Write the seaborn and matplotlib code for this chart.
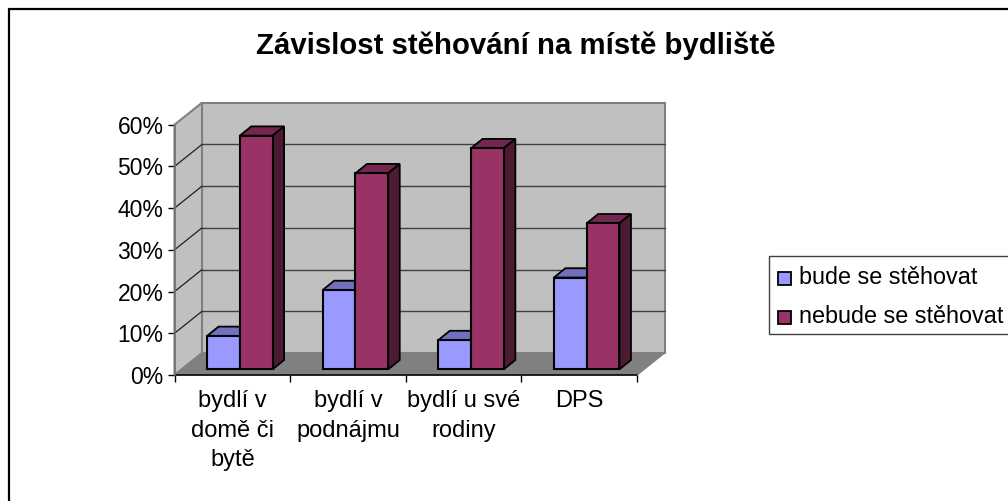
import pandas as pd
import matplotlib
matplotlib.use("Agg")
import matplotlib.pyplot as plt
import seaborn as sns
from matplotlib.lines import Line2D
from matplotlib.patches import Polygon
from matplotlib.transforms import Affine2D

# --- data ---
kategorie = ["bydlí v\ndomě či\nbytě", "bydlí v\npodnájmu", "bydlí u své\nrodiny", "DPS"]
bude = [0.08, 0.19, 0.07, 0.22]
nebude = [0.56, 0.47, 0.53, 0.35]
serie = ["bude se stěhovat", "nebude se stěhovat"]
y_ticks = [0, 0.1, 0.2, 0.3, 0.4, 0.5, 0.6]
y_labels = ["0%", "10%", "20%", "30%", "40%", "50%", "60%"]

W, H = 1008, 501
barvy = {serie[0]: "#9999FF", serie[1]: "#993366"}
vrch = {serie[0]: "#7070BC", serie[1]: "#732650"}
bok = {serie[0]: "#4D4D80", serie[1]: "#4D1A33"}

df = pd.DataFrame({
    "kategorie": kategorie * 2,
    "serie": [serie[0]] * 4 + [serie[1]] * 4,
    "hodnota": bude + nebude,
})

sns.set_style("white")
plt.rcParams["font.family"] = ["Liberation Sans", "DejaVu Sans"]

fig = plt.figure(figsize=(W / 100, H / 100), dpi=100)
# front plane of the fake 3D box, in pixels
left, right, top, bottom = 174.5, 637, 124.7, 375
ax = fig.add_axes([left / W, 1 - bottom / H, (right - left) / W, (bottom - top) / H])

sns.barplot(data=df, x="kategorie", y="hodnota", hue="serie", palette=barvy,
            width=0.567, gap=0, saturation=1, edgecolor="black", linewidth=1.5,
            legend=False, ax=ax, zorder=5)
ax.set_xlim(-0.5, 3.5)
ax.set_ylim(0, 0.6)
ax.patch.set_visible(False)
for s in ax.spines.values():
    s.set_visible(False)


def posun(dx, dy):
    # pixel offset on top of data coords, for the depth effect
    return ax.transData + Affine2D().translate(dx, dy)


# walls and floor
DX, DY = 27.5, 22
x0, x1 = ax.get_xlim()
y0, y1 = ax.get_ylim()
zadni = posun(DX, DY)
ax.add_patch(Polygon([(x0, y0), (x1, y0), (x1, y1), (x0, y1)], closed=True, transform=zadni,
                     fc="#C0C0C0", ec="#808080", lw=1.5, zorder=1, clip_on=False))

px0, py0 = ax.transData.transform((x0, y0))
px1, py1 = ax.transData.transform((x0, y1))
ax.add_patch(Polygon([(px0, py0), (px1, py1), (px1 + DX, py1 + DY), (px0 + DX, py0 + DY)],
                     closed=True, transform=None, fc="#C0C0C0", ec="#808080", lw=1.5,
                     zorder=1, clip_on=False))
prx, pry = ax.transData.transform((x1, y0))
ax.add_patch(Polygon([(px0, py0), (prx, pry), (prx + DX, pry + DY), (px0 + DX, py0 + DY)],
                     closed=True, transform=None, fc="#808080", ec="#808080", lw=1,
                     zorder=2, clip_on=False))

# gridlines on both walls
for t in y_ticks[1:-1]:
    ax.plot([x0, x1], [t, t], transform=zadni, color="#404040", lw=1, zorder=1.5, clip_on=False)
    a, b = ax.transData.transform((x0, t))
    ax.plot([a, a + DX], [b, b + DY], transform=None, color="#202020", lw=0.9, zorder=1.5, clip_on=False)

# bars: push fronts into the box, add top and side faces
BX, BY = 7.5, 5.7
TX, TY = 11.5, 9.3
bar_tr = posun(BX, BY)
for i, cont in enumerate(ax.containers):
    jmeno = serie[i]
    for p in cont:
        p.set_transform(bar_tr)
        p.set_clip_on(False)
        p.set_zorder(5 + 2 * i + 1)
        bx, bw, h = p.get_x(), p.get_width(), p.get_height()
        (ax1, ay1) = bar_tr.transform((bx, h))
        (ax2, ay2) = bar_tr.transform((bx + bw, h))
        (ax3, ay3) = bar_tr.transform((bx + bw, 0))
        ax.add_patch(Polygon([(ax1, ay1), (ax2, ay2), (ax2 + TX, ay2 + TY), (ax1 + TX, ay1 + TY)],
                             closed=True, transform=None, fc=vrch[jmeno], ec="black", lw=1.3,
                             zorder=5 + 2 * i, clip_on=False))
        ax.add_patch(Polygon([(ax2, ay2), (ax3, ay3), (ax3 + TX, ay3 + TY), (ax2 + TX, ay2 + TY)],
                             closed=True, transform=None, fc=bok[jmeno], ec="black", lw=1.3,
                             zorder=5 + 2 * i, clip_on=False))

# axes on the front plane
ax.plot([x0, x1], [y0, y0], color="black", lw=1.1, zorder=4, clip_on=False)
ax.plot([x0, x0], [y0, y1], color="#707070", lw=1.1, zorder=4, clip_on=False)
ax.set_yticks(y_ticks, y_labels, fontsize=16.5, color="black")
ax.set_xticks([-0.5, 0.5, 1.5, 2.5, 3.5], [""] * 5)
ax.set_xticks([0, 1, 2, 3], kategorie, minor=True, fontsize=17, color="black", linespacing=1.44)
ax.tick_params(axis="y", which="major", left=True, length=5, width=1, color="black", pad=3)
ax.tick_params(axis="x", which="major", bottom=True, length=5, width=1, color="black")
ax.tick_params(axis="x", which="minor", bottom=False, length=0, pad=11)
ax.set_xlabel("")
ax.set_ylabel("")

fig.text(516 / W, 1 - 46 / H, "Závislost stěhování na místě bydliště", fontsize=21.2,
         fontweight="bold", ha="center", va="center", color="black")

# legend runs off the right edge like the source
fig.add_artist(Polygon([(768.5 / W, 1 - 256 / H), (1012 / W, 1 - 256 / H),
                        (1012 / W, 1 - 334 / H), (768.5 / W, 1 - 334 / H)], closed=True,
                       transform=fig.transFigure, fc="white", ec="#404040", lw=1))
for i, (jmeno, yy) in enumerate(zip(serie, [277.5, 316.5])):
    fig.add_artist(Polygon([(778 / W, 1 - (yy - 6) / H), (791 / W, 1 - (yy - 6) / H),
                            (791 / W, 1 - (yy + 7) / H), (778 / W, 1 - (yy + 7) / H)], closed=True,
                           transform=fig.transFigure, fc=barvy[jmeno], ec="black", lw=1.3))
    fig.text(799 / W, 1 - yy / H, jmeno, fontsize=16.8, ha="left", va="center", color="black")

# chart frame, right and bottom edges are cut off
fig.add_artist(Line2D([9 / W, 9 / W], [0, 1 - 8.5 / H], color="black", lw=1.6, transform=fig.transFigure))
fig.add_artist(Line2D([9 / W, 1], [1 - 8.5 / H, 1 - 8.5 / H], color="black", lw=1.6, transform=fig.transFigure))

fig.savefig("out.png", dpi=100)
